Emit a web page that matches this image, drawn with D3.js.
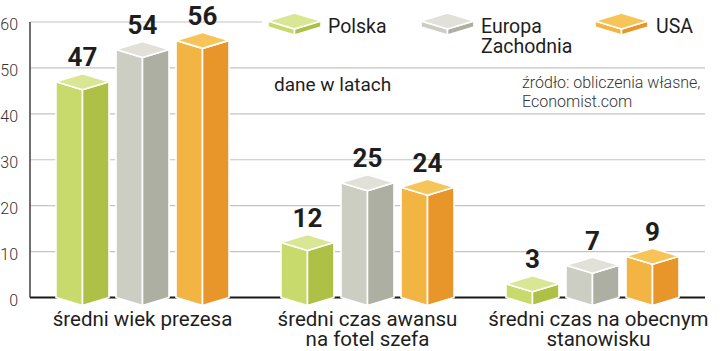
<!DOCTYPE html>
<html>
<head>
<meta charset="utf-8">
<script src="https://cdn.jsdelivr.net/npm/d3@7"></script>
<style>
  html, body { margin: 0; padding: 0; background: #fff; }
  svg { display: block; font-family: Roboto, "Noto Sans", sans-serif; }
</style>
</head>
<body>
<svg id="chart" width="720" height="351"></svg>
<script>
// ---- data ----
const categories = ["średni wiek prezesa", "średni czas awansu\nna fotel szefa", "średni czas na obecnym\nstanowisku"];
const series = ["Polska", "Europa\nZachodnia", "USA"];
const polska = [47, 12, 3];
const europaZachodnia = [54, 25, 7];
const usa = [56, 24, 9];
const yTicks = [0, 10, 20, 30, 40, 50, 60];
const unitNote = "dane w latach";
const sourceNote = ["źródło: obliczenia własne,", "Economist.com"];

const values = [polska, europaZachodnia, usa];
const palette = [
  { top: "#d9e795", left: "#c7da6b", right: "#afc046" },
  { top: "#e1e1d9", left: "#cdcec3", right: "#adafa2" },
  { top: "#f7c45a", left: "#f2b442", right: "#e8952a" }
];

const svg = d3.select("#chart");
const y = d3.scaleLinear().domain([0, 60]).range([297.5, 22]);
const x0 = d3.scaleBand().domain(categories).range([56, 679]).paddingInner(0.231).paddingOuter(0);
const x1 = d3.scaleBand().domain(series).range([0, x0.bandwidth()]).paddingInner(0.117);
const D = 8; // depth offset of the box drawing

// gridlines
svg.append("g").selectAll("line").data(yTicks.filter(t => t > 0)).join("line")
  .attr("x1", 30).attr("x2", 705)
  .attr("y1", d => y(d)).attr("y2", d => y(d))
  .attr("stroke", "#c4c4c4").attr("stroke-width", 1.2);

// white legend backdrop hiding the top gridline
svg.append("rect").attr("x", 262).attr("y", 0).attr("width", 458).attr("height", 60).attr("fill", "#fff");

// baseline
svg.append("line").attr("x1", 30).attr("x2", 705).attr("y1", y(0)).attr("y2", y(0))
  .attr("stroke", "#1a1a1a").attr("stroke-width", 2);

// y axis line
svg.append("line").attr("x1", 30).attr("x2", 30).attr("y1", y(60)).attr("y2", y(0))
  .attr("stroke", "#333").attr("stroke-width", 1.4);

// y tick labels
svg.append("g").selectAll("text").data(yTicks).join("text")
  .attr("x", 18).attr("y", d => y(d) + 4)
  .attr("dominant-baseline", "middle")
  .attr("text-anchor", "end")
  .attr("font-size", 16).attr("font-weight", 300).attr("fill", "#333")
  .text(d => d);

function drawBox(g, xl, w, yTop, yBase, col) {
  const xc = xl + w / 2, xr = xl + w;
  g.append("path")
    .attr("d", `M${xl},${yTop}L${xc},${yTop + D}L${xc},${yBase + D}L${xl},${yBase}Z`)
    .attr("fill", col.left).attr("stroke", "#fff").attr("stroke-width", 1.6).attr("stroke-linejoin", "round");
  g.append("path")
    .attr("d", `M${xc},${yTop + D}L${xr},${yTop}L${xr},${yBase}L${xc},${yBase + D}Z`)
    .attr("fill", col.right).attr("stroke", "#fff").attr("stroke-width", 1.6).attr("stroke-linejoin", "round");
  g.append("path")
    .attr("d", `M${xl},${yTop}L${xc},${yTop - D}L${xr},${yTop}L${xc},${yTop + D}Z`)
    .attr("fill", col.top).attr("stroke", "#fff").attr("stroke-width", 1.6).attr("stroke-linejoin", "round");
}

// bars
const barsG = svg.append("g");
categories.forEach((cat, ci) => {
  series.forEach((s, si) => {
    const v = values[si][ci];
    const xl = x0(cat) + x1(s);
    const w = x1.bandwidth();
    drawBox(barsG, xl, w, y(v), y(0), palette[si]);
    barsG.append("text")
      .attr("x", xl + w / 2).attr("y", y(v) - D - 7.5)
      .attr("text-anchor", "middle")
      .attr("font-size", 26).attr("font-weight", 700).attr("fill", "#1e1e1e")
      .text(v);
  });
});

// category labels
const catG = svg.append("g");
categories.forEach((cat, ci) => {
  const cx = x0(cat) + x0.bandwidth() / 2 + (ci === 2 ? 6 : 0);
  cat.split("\n").forEach((ln, i) => {
    catG.append("text")
      .attr("x", cx)
      .attr("y", 326 + i * 20)
      .attr("text-anchor", "middle")
      .attr("font-size", 20.5).attr("fill", "#1e1e1e")
      .text(ln);
  });
});

// legend
const legendX = [268, 421, 595];
const legendTextX = [328, 481, 656];
const legG = svg.append("g");
series.forEach((s, si) => {
  drawBox(legG, legendX[si], 53, 21, 27, palette[si]);
  s.split("\n").forEach((ln, i) => {
    legG.append("text").attr("x", legendTextX[si]).attr("y", 33 + i * 19.5)
      .attr("font-size", 19.5).attr("fill", "#1e1e1e").text(ln);
  });
});

// notes
svg.append("text").attr("x", 274).attr("y", 91)
  .attr("font-size", 19).attr("fill", "#1e1e1e").text(unitNote);
sourceNote.forEach((ln, i) => {
  svg.append("text").attr("x", 522).attr("y", 88 + i * 19)
    .attr("font-size", 16).attr("font-weight", 300).attr("fill", "#333").text(ln);
});
</script>
</body>
</html>
